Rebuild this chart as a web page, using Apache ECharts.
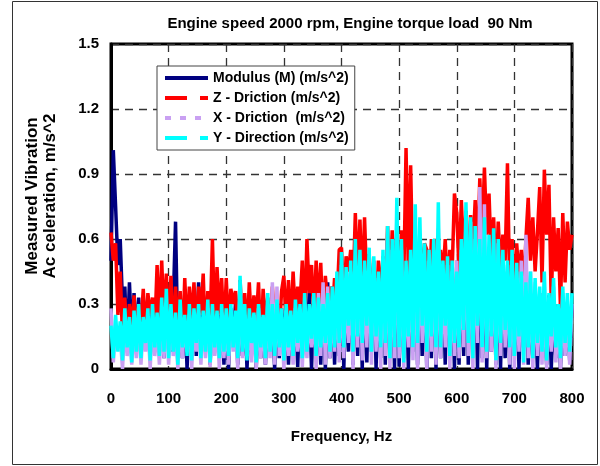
<!DOCTYPE html>
<html>
<head>
<meta charset="utf-8">
<script src="https://cdn.jsdelivr.net/npm/echarts@6/dist/echarts.min.js"></script>
<style>
  html, body { margin: 0; padding: 0; background: #fff; }
  #chart { width: 600px; height: 466px; }
</style>
</head>
<body>
<div id="chart"></div>
<script>
// spectrum resolution, Hz (one value every 4 Hz, 0..800)
const freqStep = 4;
const xTicks = [0, 100, 200, 300, 400, 500, 600, 700, 800];
const yTicks = [0, 0.3, 0.6, 0.9, 1.2, 1.5];

// Modulus (M), one row per 100 Hz
const modulus = [
  0.5, 1.01, 0.75, 0.48, 0.6, 0.3, 0.38, 0.1, 0.4, 0.15, 0.35, 0.12, 0.33, 0.08, 0.3, 0.18, 0.33, 0.05, 0.3, 0.1, 0.28, 0.12, 0.3, 0.05, 0.28,
  0.25, 0.08, 0.3, 0.68, 0.1, 0.33, 0.05, 0.3, 0.0, 0.28, 0.12, 0.35, 0.06, 0.4, 0.1, 0.32, 0.15, 0.35, 0.02, 0.3, 0.1, 0.33, 0.05, 0.3, 0.02,
  0.3, 0.0, 0.28, 0.1, 0.3, 0.02, 0.26, 0.06, 0.3, 0.0, 0.25, 0.08, 0.28, 0.0, 0.3, 0.05, 0.27, 0.02, 0.29, 0.1, 0.27, 0.0, 0.3, 0.05, 0.28,
  0.1, 0.3, 0.02, 0.32, 0.06, 0.3, 0.01, 0.33, 0.05, 0.3, 0.08, 0.35, 0.0, 0.33, 0.05, 0.35, 0.02, 0.38, 0.0, 0.4, 0.05, 0.38, 0.02, 0.4, 0.06,
  0.45, 0.0, 0.42, 0.08, 0.48, 0.02, 0.5, 0.06, 0.45, 0.0, 0.48, 0.03, 0.5, 0.08, 0.5, 0.0, 0.45, 0.05, 0.5, 0.02, 0.6, 0.05, 0.55, 0.0, 0.65,
  0.01, 0.55, 0.05, 0.5, 0.0, 0.6, 0.08, 0.6, 0.02, 0.5, 0.06, 0.5, 0.0, 0.55, 0.05, 0.6, 0.0, 0.55, 0.05, 0.45, 0.02, 0.5, 0.08, 0.45, 0.0,
  0.5, 0.02, 0.55, 0.06, 0.68, 0.02, 0.6, 0.1, 0.6, 0.0, 0.6, 0.05, 0.55, 0.0, 0.55, 0.08, 0.5, 0.02, 0.45, 0.0, 0.48, 0.05, 0.45, 0.0, 0.42,
  0.06, 0.42, 0.0, 0.45, 0.1, 0.38, 0.02, 0.35, 0.05, 0.3, 0.0, 0.35, 0.08, 0.3, 0.02, 0.34, 0.0, 0.28, 0.05, 0.3, 0.0, 0.32, 0.06, 0.28, 0.04,
  0.3
];

// Z - direction
const zDir = [
  0.63, 0.5, 0.58, 0.25, 0.45, 0.15, 0.33, 0.12, 0.3, 0.18, 0.34, 0.14, 0.3, 0.2, 0.37, 0.15, 0.35, 0.25, 0.33, 0.18, 0.48, 0.2, 0.5, 0.22, 0.44,
  0.15, 0.43, 0.12, 0.38, 0.2, 0.36, 0.1, 0.42, 0.16, 0.38, 0.22, 0.4, 0.15, 0.38, 0.25, 0.44, 0.12, 0.36, 0.2, 0.6, 0.18, 0.47, 0.25, 0.42, 0.15,
  0.42, 0.18, 0.37, 0.3, 0.36, 0.12, 0.41, 0.2, 0.35, 0.15, 0.4, 0.18, 0.34, 0.22, 0.4, 0.1, 0.37, 0.2, 0.33, 0.14, 0.38, 0.2, 0.3, 0.15, 0.36,
  0.43, 0.2, 0.41, 0.17, 0.45, 0.24, 0.38, 0.3, 0.5, 0.2, 0.6, 0.35, 0.48, 0.22, 0.5, 0.27, 0.49, 0.2, 0.43, 0.3, 0.38, 0.25, 0.42, 0.3, 0.55,
  0.56, 0.3, 0.52, 0.45, 0.55, 0.35, 0.72, 0.4, 0.69, 0.35, 0.7, 0.38, 0.53, 0.3, 0.47, 0.22, 0.5, 0.33, 0.52, 0.3, 0.66, 0.35, 0.64, 0.4, 0.62,
  0.35, 0.64, 0.4, 1.02, 0.45, 0.94, 0.4, 0.62, 0.3, 0.6, 0.4, 0.58, 0.55, 0.3, 0.6, 0.45, 0.6, 0.28, 0.55, 0.42, 0.6, 0.35, 0.55, 0.45, 0.81,
  0.72, 0.45, 0.78, 0.5, 0.73, 0.4, 0.71, 0.55, 0.78, 0.5, 0.88, 0.6, 0.93, 0.62, 0.81, 0.5, 0.7, 0.4, 0.68, 0.45, 0.62, 0.5, 0.95, 0.35, 0.6,
  0.3, 0.58, 0.42, 0.55, 0.35, 0.6, 0.79, 0.5, 0.7, 0.45, 0.63, 0.84, 0.4, 0.92, 0.62, 0.85, 0.3, 0.7, 0.45, 0.65, 0.28, 0.72, 0.4, 0.68, 0.55,
  0.62
];

// X - direction
const xDir = [
  0.28, 0.03, 0.2, 0.1, 0.15, 0.0, 0.22, 0.06, 0.18, 0.02, 0.2, 0.05, 0.25, 0.02, 0.2, 0.08, 0.22, 0.0, 0.25, 0.06, 0.2, 0.02, 0.24, 0.05, 0.3,
  0.02, 0.25, 0.06, 0.2, 0.0, 0.25, 0.05, 0.22, 0.08, 0.25, 0.0, 0.22, 0.08, 0.26, 0.02, 0.24, 0.05, 0.28, 0.01, 0.25, 0.06, 0.22, 0.0, 0.26, 0.05,
  0.25, 0.02, 0.24, 0.08, 0.2, 0.0, 0.4, 0.05, 0.25, 0.06, 0.22, 0.03, 0.25, 0.0, 0.28, 0.05, 0.24, 0.02, 0.3, 0.05, 0.4, 0.02, 0.38, 0.06, 0.24,
  0.0, 0.27, 0.06, 0.25, 0.02, 0.28, 0.08, 0.26, 0.01, 0.3, 0.05, 0.26, 0.1, 0.3, 0.0, 0.35, 0.06, 0.4, 0.02, 0.38, 0.05, 0.3, 0.08, 0.4, 0.03,
  0.48, 0.05, 0.42, 0.12, 0.45, 0.0, 0.5, 0.1, 0.48, 0.04, 0.45, 0.1, 0.5, 0.02, 0.5, 0.08, 0.42, 0.0, 0.5, 0.06, 0.6, 0.0, 0.55, 0.05, 0.7,
  0.05, 0.55, 0.0, 0.45, 0.1, 0.5, 0.04, 0.6, 0.0, 0.62, 0.12, 0.5, 0.0, 0.5, 0.08, 0.55, 0.02, 0.65, 0.05, 0.45, 0.1, 0.48, 0.0, 0.45, 0.06,
  0.5, 0.05, 0.55, 0.1, 0.7, 0.06, 0.68, 0.0, 0.6, 0.12, 0.84, 0.03, 0.76, 0.05, 0.55, 0.08, 0.6, 0.0, 0.58, 0.06, 0.5, 0.1, 0.48, 0.02, 0.5,
  0.0, 0.45, 0.08, 0.5, 0.02, 0.62, 0.05, 0.45, 0.0, 0.4, 0.06, 0.35, 0.02, 0.4, 0.0, 0.32, 0.08, 0.38, 0.03, 0.28, 0.0, 0.35, 0.06, 0.3, 0.02,
  0.3
];

// Y - direction
const yDir = [
  0.2, 0.05, 0.25, 0.08, 0.22, 0.04, 0.28, 0.1, 0.24, 0.03, 0.27, 0.08, 0.3, 0.05, 0.24, 0.12, 0.28, 0.04, 0.3, 0.1, 0.26, 0.06, 0.33, 0.08, 0.37,
  0.05, 0.3, 0.08, 0.26, 0.02, 0.32, 0.1, 0.25, 0.06, 0.3, 0.04, 0.28, 0.12, 0.3, 0.05, 0.27, 0.08, 0.32, 0.03, 0.3, 0.1, 0.27, 0.05, 0.3, 0.08,
  0.28, 0.06, 0.3, 0.1, 0.27, 0.05, 0.43, 0.08, 0.3, 0.04, 0.28, 0.12, 0.26, 0.03, 0.3, 0.1, 0.25, 0.05, 0.35, 0.08, 0.3, 0.06, 0.32, 0.1, 0.28,
  0.04, 0.3, 0.1, 0.27, 0.06, 0.32, 0.12, 0.3, 0.05, 0.35, 0.08, 0.3, 0.14, 0.35, 0.06, 0.33, 0.1, 0.3, 0.12, 0.35, 0.08, 0.38, 0.1, 0.45, 0.12,
  0.54, 0.1, 0.47, 0.2, 0.5, 0.08, 0.6, 0.15, 0.55, 0.12, 0.5, 0.2, 0.56, 0.08, 0.52, 0.15, 0.45, 0.1, 0.55, 0.12, 0.66, 0.05, 0.6, 0.1, 0.79,
  0.1, 0.6, 0.03, 0.5, 0.15, 0.55, 0.1, 0.76, 0.12, 0.7, 0.2, 0.58, 0.08, 0.55, 0.15, 0.6, 0.1, 0.77, 0.1, 0.5, 0.2, 0.52, 0.06, 0.5, 0.12,
  0.45, 0.1, 0.6, 0.18, 0.77, 0.12, 0.7, 0.05, 0.66, 0.2, 0.6, 0.1, 0.7, 0.08, 0.62, 0.15, 0.65, 0.04, 0.6, 0.12, 0.55, 0.18, 0.5, 0.1, 0.55,
  0.06, 0.49, 0.15, 0.45, 0.03, 0.4, 0.1, 0.45, 0.05, 0.42, 0.12, 0.38, 0.08, 0.45, 0.04, 0.35, 0.15, 0.42, 0.1, 0.3, 0.05, 0.38, 0.12, 0.35, 0.08,
  0.35
];

const seriesNames = [
  'Modulus (M) (m/s^2)',
  'Z - Driction (m/s^2)',
  'X - Driction  (m/s^2)',
  'Y - Direction (m/s^2)'
];
const seriesColors = ['#000080', '#ff0000', '#c9a0f2', '#00ffff'];
const seriesValues = [modulus, zDir, xDir, yDir];
const legendDash = ['solid', [22, 13], [6, 9], [22, 13]];

const toPairs = vals => vals.map((v, i) => [i * freqStep, v]);

const font = 'Arial, "Liberation Sans", sans-serif';

const chart = echarts.init(document.getElementById('chart'));
chart.setOption({
  animation: false,
  backgroundColor: '#fff',
  title: {
    text: 'Engine speed 2000 rpm, Engine torque load  90 Nm',
    left: 345,
    top: 11,
    textAlign: 'center',
    textStyle: { fontFamily: font, fontSize: 15, fontWeight: 'bold', color: '#000' }
  },
  legend: {
    orient: 'vertical',
    left: 157,
    top: 66,
    padding: [5, 6, 5, 6],
    itemGap: 6,
    itemWidth: 43,
    itemHeight: 14,
    backgroundColor: '#fff',
    borderColor: '#444',
    borderWidth: 1,
    borderRadius: 0,
    z: 10,
    textStyle: { fontFamily: font, fontSize: 14, fontWeight: 'bold', color: '#000' },
    data: seriesNames.map((n, i) => ({
      name: n,
      itemStyle: { opacity: 0 },
      lineStyle: { type: legendDash[i], width: 4, color: seriesColors[i] }
    }))
  },
  grid: {
    left: 111,
    right: 28,
    top: 44,
    bottom: 97,
    show: true,
    borderColor: '#000',
    borderWidth: 3,
    backgroundColor: 'transparent'
  },
  xAxis: {
    type: 'value',
    min: xTicks[0],
    max: xTicks[xTicks.length - 1],
    interval: 100,
    name: 'Frequency, Hz',
    nameLocation: 'middle',
    nameGap: 60,
    nameTextStyle: { fontFamily: font, fontSize: 15, fontWeight: 'bold', color: '#000' },
    axisLine: { show: true, lineStyle: { color: '#000', width: 3 } },
    axisTick: { show: false },
    axisLabel: { margin: 22, fontFamily: font, fontSize: 15, fontWeight: 'bold', color: '#000' },
    splitLine: { show: true, lineStyle: { color: '#333', type: [8, 6], width: 1.3 } }
  },
  yAxis: {
    type: 'value',
    min: yTicks[0],
    max: yTicks[yTicks.length - 1],
    interval: 0.3,
    axisLine: { show: true, lineStyle: { color: '#000', width: 3 } },
    axisTick: { show: false },
    axisLabel: {
      margin: 12, fontFamily: font, fontSize: 15, fontWeight: 'bold', color: '#000',
      formatter: v => (v === 0 ? '0' : v.toFixed(1))
    },
    splitLine: { show: true, lineStyle: { color: '#333', type: [8, 6], width: 1.3 } }
  },
  graphic: [
    {
      type: 'rect',
      shape: { x: 12.5, y: 1.5, width: 585, height: 463 },
      style: { fill: 'none', stroke: '#333', lineWidth: 1 },
      silent: true,
      z: -1
    },
    {
      type: 'text',
      x: 41,
      y: 196,
      rotation: Math.PI / 2,
      style: {
        text: 'Measured Vibration\nAc celeration, m/s^2',
        font: 'bold 17px ' + font,
        fill: '#000',
        align: 'center',
        verticalAlign: 'middle',
        lineHeight: 18
      }
    }
  ],
  series: seriesNames.map((n, i) => ({
    name: n,
    type: 'line',
    data: toPairs(seriesValues[i]),
    showSymbol: false,
    symbol: 'none',
    clip: true,
    color: seriesColors[i],
    lineStyle: { color: seriesColors[i], width: 3.5, type: 'solid' }
  }))
});
</script>
</body>
</html>
